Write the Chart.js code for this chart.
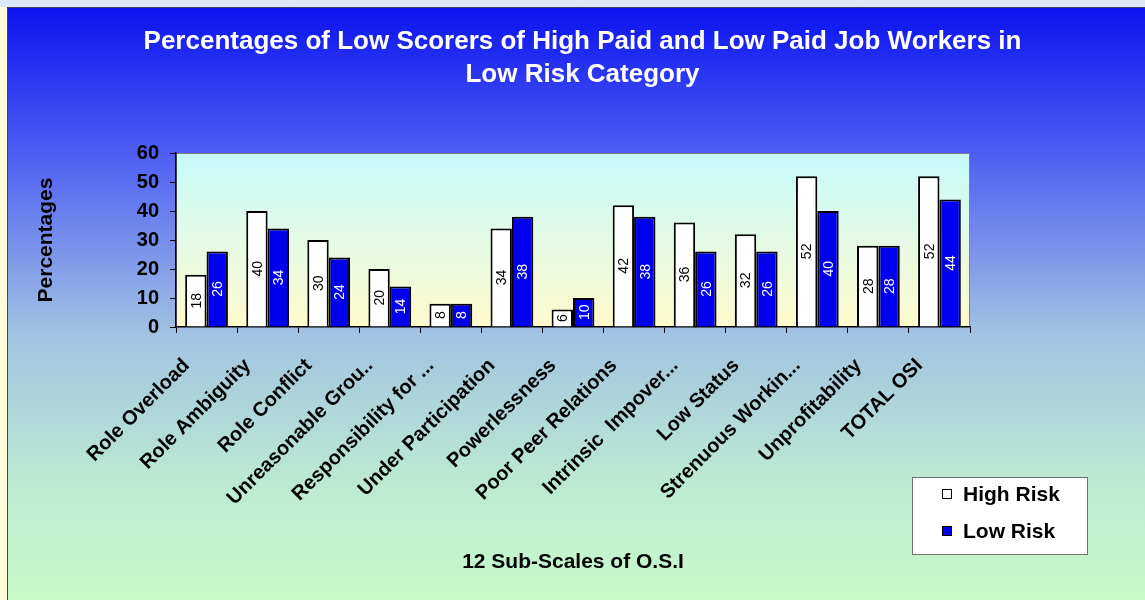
<!DOCTYPE html>
<html>
<head>
<meta charset="utf-8">
<script src="https://cdn.jsdelivr.net/npm/chart.js@4.4.0/dist/chart.umd.min.js"></script>
<style>
    html, body { margin: 0; padding: 0; background: #fffbd8; }
    #wrap { width: 1145px; height: 600px; position: relative; }
</style>
</head>
<body>
<div id="wrap"><canvas id="chart" width="1145" height="600"></canvas></div>
<script>
const categories = [
    'Role Overload', 'Role Ambiguity', 'Role Conflict', 'Unreasonable Grou..',
    'Responsibility for ...', 'Under Participation', 'Powerlessness',
    'Poor Peer Relations', 'Intrinsic  Impover...', 'Low Status',
    'Strenuous Workin...', 'Unprofitability', 'TOTAL OSI'
];
const highRisk = [18, 40, 30, 20, 8, 34, 6, 42, 36, 32, 52, 28, 52];
const lowRisk = [26, 34, 24, 14, 8, 38, 10, 38, 26, 26, 40, 28, 44];
const seriesNames = ['High Risk', 'Low Risk'];
const yTicks = [0, 10, 20, 30, 40, 50, 60];

const FONT = "'Liberation Sans', Arial, sans-serif";

// panel and plot area backgrounds
const backgroundPlugin = {
    id: 'background',
    beforeDraw(chart) {
        const ctx = chart.ctx;
        const W = chart.width, H = chart.height;
        ctx.save();
        ctx.fillStyle = '#fffbd8';
        ctx.fillRect(0, 0, W, H);
        ctx.fillStyle = '#dce8f8';
        ctx.fillRect(0, 0, W, 7);
        const g = ctx.createLinearGradient(0, 7, 0, H);
        g.addColorStop(0, '#0c12f0');
        g.addColorStop(0.25, '#4f5ff4');
        g.addColorStop(0.55, '#a2c2e2');
        g.addColorStop(0.8, '#bde9d2');
        g.addColorStop(1, '#c8fac8');
        ctx.fillStyle = g;
        ctx.fillRect(7, 7, W - 7, H - 7);
        ctx.strokeStyle = '#404060';
        ctx.lineWidth = 1;
        ctx.beginPath();
        ctx.moveTo(7.5, H);
        ctx.lineTo(7.5, 7.5);
        ctx.lineTo(W, 7.5);
        ctx.stroke();

        const a = chart.chartArea;
        const pg = ctx.createLinearGradient(0, a.top, 0, a.bottom);
        pg.addColorStop(0, '#c6fafa');
        pg.addColorStop(0.5, '#e4fae6');
        pg.addColorStop(1, '#fffacc');
        ctx.fillStyle = pg;
        ctx.fillRect(a.left, a.top, a.right - a.left, a.bottom - a.top);
        ctx.strokeStyle = '#808080';
        ctx.strokeRect(a.left + 0.5, a.top + 0.5, a.right - a.left - 1, a.bottom - a.top - 1);
        ctx.restore();
    }
};

// rotated value labels in the middle of each bar
const valueLabels = {
    id: 'valueLabels',
    afterDatasetsDraw(chart) {
        const ctx = chart.ctx;
        ctx.save();
        ctx.font = '14px ' + FONT;
        ctx.textAlign = 'center';
        ctx.textBaseline = 'middle';
        chart.data.datasets.forEach((ds, i) => {
            const meta = chart.getDatasetMeta(i);
            meta.data.forEach((bar, j) => {
                const yMid = (bar.y + bar.base) / 2;
                ctx.fillStyle = i === 0 ? '#000' : '#fff';
                ctx.save();
                ctx.translate(bar.x, yMid);
                ctx.rotate(-Math.PI / 2);
                ctx.fillText(String(ds.data[j]), 0, 1);
                ctx.restore();
            });
        });
        ctx.restore();
    }
};

// boxed legend at lower right
const boxLegend = {
    id: 'boxLegend',
    afterDraw(chart) {
        const ctx = chart.ctx;
        const x = 912, y = 477, w = 176, h = 78;
        ctx.save();
        ctx.fillStyle = '#ffffff';
        ctx.fillRect(x, y, w, h);
        ctx.strokeStyle = '#707070';
        ctx.lineWidth = 1;
        ctx.strokeRect(x + 0.5, y + 0.5, w - 1, h - 1);
        ctx.font = 'bold 21px ' + FONT;
        ctx.textBaseline = 'middle';
        ctx.textAlign = 'left';
        chart.data.datasets.forEach((ds, i) => {
            const cy = y + 17 + i * 37;
            ctx.fillStyle = ds.backgroundColor;
            ctx.fillRect(x + 30, cy - 5, 10, 10);
            ctx.strokeStyle = '#000';
            ctx.strokeRect(x + 30.5, cy - 4.5, 9, 9);
            ctx.fillStyle = '#000';
            ctx.fillText(ds.label, x + 51, cy + 1);
        });
        ctx.restore();
    }
};

new Chart(document.getElementById('chart'), {
    type: 'bar',
    data: {
        labels: categories,
        datasets: [
            {
                label: seriesNames[0],
                data: highRisk,
                backgroundColor: '#ffffff',
                borderColor: '#000000',
                borderWidth: 2,
                categoryPercentage: 0.7,
                barPercentage: 1.0
            },
            {
                label: seriesNames[1],
                data: lowRisk,
                backgroundColor: '#0000ee',
                borderColor: '#000000',
                borderWidth: 2,
                categoryPercentage: 0.7,
                barPercentage: 1.0
            }
        ]
    },
    options: {
        responsive: false,
        animation: false,
        layout: { padding: { left: 20, top: 7, right: 0, bottom: 7 } },
        plugins: {
            legend: { display: false },
            tooltip: { enabled: false },
            title: {
                display: true,
                text: ['Percentages of Low Scorers of High Paid and Low Paid Job Workers in', 'Low Risk Category'],
                color: '#ffffff',
                font: { family: FONT, size: 26, weight: 'bold', lineHeight: 1.27 },
                padding: { top: 18, bottom: 62 }
            }
        },
        scales: {
            x: {
                grid: { display: true, drawOnChartArea: false, drawTicks: true, tickLength: 6, color: '#000' },
                border: { color: '#000', width: 1.5 },
                ticks: {
                    color: '#000',
                    font: { family: FONT, size: 20, weight: 'bold' },
                    minRotation: 45,
                    maxRotation: 45,
                    autoSkip: false,
                    labelOffset: -20,
                    padding: 21
                },
                title: {
                    display: true,
                    text: '12 Sub-Scales of O.S.I',
                    color: '#000',
                    font: { family: FONT, size: 21, weight: 'bold' },
                    padding: { top: 4, bottom: 18 }
                },
                afterFit(scale) { scale.height = 266; }
            },
            y: {
                min: 0,
                max: 60,
                grid: { display: true, drawOnChartArea: false, drawTicks: true, tickLength: 6, color: '#000' },
                border: { color: '#000', width: 1.5 },
                afterBuildTicks(scale) { scale.ticks = yTicks.map(v => ({ value: v })); },
                ticks: {
                    color: '#000',
                    font: { family: FONT, size: 20, weight: 'bold' },
                    padding: 11
                },
                title: {
                    display: true,
                    text: 'Percentages',
                    color: '#000',
                    font: { family: FONT, size: 21, weight: 'bold' },
                    padding: { top: 14, bottom: 0 }
                },
                afterFit(scale) { scale.width = 156; }
            },
            yRight: {
                position: 'right',
                display: true,
                grid: { display: false },
                border: { display: false },
                ticks: { display: false },
                afterFit(scale) { scale.width = 175; }
            }
        }
    },
    plugins: [backgroundPlugin, valueLabels, boxLegend]
});
</script>
</body>
</html>
